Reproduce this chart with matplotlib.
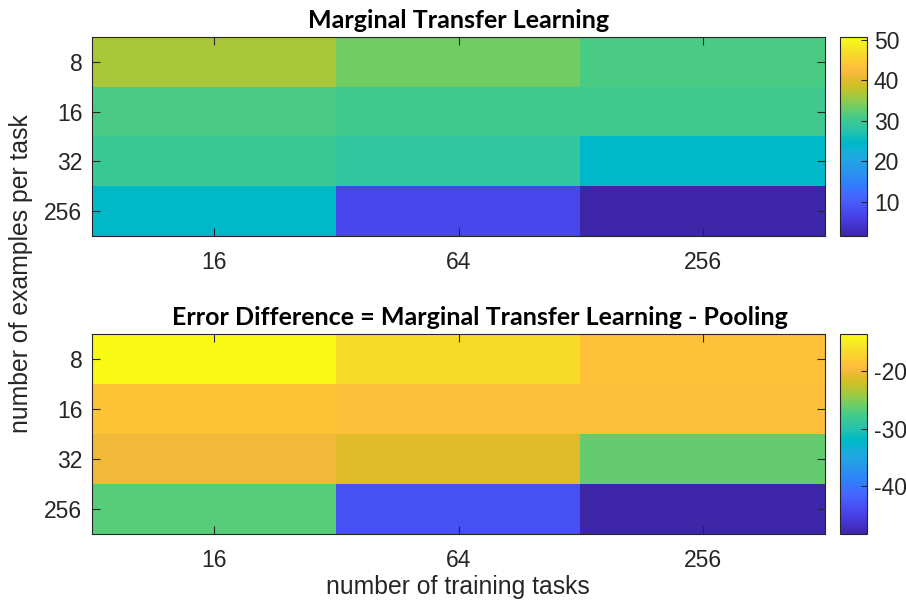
import numpy as np
import matplotlib
matplotlib.use("Agg")
import matplotlib.pyplot as plt
from matplotlib.colors import LinearSegmentedColormap

# --------------------------------
# DATA
# --------------------------------
tasks = ["16", "64", "256"]
examples = ["8", "16", "32", "256"]

# rows = examples per task, cols = training tasks
mtl_error = [
    [36.6, 33.5, 31.2],
    [31.2, 30.4, 30.4],
    [29.6, 28.8, 24.1],
    [24.3, 7.0, 1.6],
]
mtl_clim = [1.5, 50.7]
mtl_ticks = [10, 20, 30, 40, 50]

diff_error = [
    [-13.5, -16.3, -18.7],
    [-18.5, -19.0, -19.0],
    [-19.9, -21.0, -26.2],
    [-26.8, -43.3, -48.3],
]
diff_clim = [-48.3, -13.5]
diff_ticks = [-40, -30, -20]

# parula (64 steps)
parula_rgb = [
    [0.2422, 0.1504, 0.6603], [0.2504, 0.1650, 0.7076], [0.2578, 0.1818, 0.7511],
    [0.2647, 0.1978, 0.7952], [0.2706, 0.2147, 0.8364], [0.2751, 0.2342, 0.8710],
    [0.2783, 0.2559, 0.8991], [0.2803, 0.2782, 0.9221], [0.2813, 0.3006, 0.9414],
    [0.2810, 0.3228, 0.9579], [0.2795, 0.3447, 0.9717], [0.2760, 0.3667, 0.9829],
    [0.2699, 0.3892, 0.9906], [0.2602, 0.4123, 0.9952], [0.2440, 0.4358, 0.9988],
    [0.2206, 0.4603, 0.9973], [0.1963, 0.4847, 0.9892], [0.1834, 0.5074, 0.9798],
    [0.1786, 0.5289, 0.9682], [0.1764, 0.5499, 0.9520], [0.1687, 0.5703, 0.9359],
    [0.1540, 0.5902, 0.9218], [0.1460, 0.6091, 0.9079], [0.1380, 0.6276, 0.8973],
    [0.1248, 0.6459, 0.8883], [0.1113, 0.6635, 0.8763], [0.0952, 0.6798, 0.8598],
    [0.0689, 0.6948, 0.8394], [0.0297, 0.7082, 0.8163], [0.0036, 0.7203, 0.7917],
    [0.0067, 0.7312, 0.7660], [0.0433, 0.7411, 0.7394], [0.0964, 0.7500, 0.7120],
    [0.1408, 0.7584, 0.6842], [0.1717, 0.7670, 0.6554], [0.1938, 0.7758, 0.6251],
    [0.2161, 0.7843, 0.5923], [0.2470, 0.7918, 0.5567], [0.2906, 0.7973, 0.5188],
    [0.3406, 0.8008, 0.4789], [0.3909, 0.8029, 0.4354], [0.4456, 0.8024, 0.3909],
    [0.5044, 0.7993, 0.3480], [0.5616, 0.7942, 0.3045], [0.6174, 0.7876, 0.2612],
    [0.6720, 0.7793, 0.2227], [0.7242, 0.7698, 0.1910], [0.7738, 0.7598, 0.1646],
    [0.8203, 0.7498, 0.1535], [0.8634, 0.7406, 0.1596], [0.9035, 0.7330, 0.1774],
    [0.9393, 0.7288, 0.2100], [0.9728, 0.7298, 0.2394], [0.9956, 0.7434, 0.2371],
    [0.9970, 0.7659, 0.2199], [0.9952, 0.7893, 0.2028], [0.9892, 0.8136, 0.1885],
    [0.9786, 0.8386, 0.1766], [0.9676, 0.8639, 0.1643], [0.9610, 0.8890, 0.1537],
    [0.9597, 0.9135, 0.1423], [0.9628, 0.9373, 0.1265], [0.9691, 0.9606, 0.1064],
    [0.9769, 0.9839, 0.0805],
]
parula = LinearSegmentedColormap.from_list("parula", parula_rgb, N=256)

# --------------------------------
# FIGURE
# --------------------------------
W, H = 906, 600
plt.rcParams['font.family'] = ['Liberation Sans', 'DejaVu Sans']
plt.rcParams['axes.unicode_minus'] = False
fig = plt.figure(figsize=(W / 100, H / 100), dpi=100)

axcol = (0.15, 0.15, 0.15)


def px_rect(x0, y0, x1, y1):
    return [x0 / W, 1 - y1 / H, (x1 - x0) / W, (y1 - y0) / H]


def heat(rect, cbrect, data, clim, cticks, title, title_x):
    ax = fig.add_axes(px_rect(*rect))
    im = ax.imshow(np.array(data), cmap=parula, vmin=clim[0], vmax=clim[1],
                   aspect="auto", interpolation="nearest")
    ax.set_xticks(range(len(tasks)))
    ax.set_xticklabels(tasks)
    ax.set_yticks(range(len(examples)))
    ax.set_yticklabels(examples)
    ax.tick_params(direction="in", top=True, right=True, length=6, width=0.8,
                   colors=axcol, labelsize=16.5)
    ax.tick_params(axis="x", pad=11)
    ax.tick_params(axis="y", pad=7)
    for s in ax.spines.values():
        s.set_color(axcol)
        s.set_linewidth(0.8)
    fig.text(title_x / W, 1 - (rect[1] - 9) / H, title, ha="center", va="baseline",
             fontsize=18, fontweight="bold", family="Lato", color="black")

    cax = fig.add_axes(px_rect(*cbrect))
    cb = fig.colorbar(im, cax=cax, ticks=cticks)
    cb.outline.set_edgecolor(axcol)
    cb.outline.set_linewidth(0.8)
    cax.tick_params(direction="in", length=4, width=0.8, colors=axcol,
                    labelsize=16.5, pad=5)
    return ax


heat((92, 37, 825, 236), (840, 37, 867, 236), mtl_error, mtl_clim, mtl_ticks,
     "Marginal Transfer Learning", 459)
heat((92, 334, 825, 534), (840, 334, 867, 534), diff_error, diff_clim, diff_ticks,
     "Error Difference = Marginal Transfer Learning - Pooling", 480)

fig.text(21 / W, 1 - 274 / H, "number of examples per task", rotation=90,
         ha="center", va="center", fontsize=17.8, color=axcol)
fig.text(458 / W, 1 - 594 / H, "number of training tasks",
         ha="center", va="baseline", fontsize=17.8, color=axcol)

fig.savefig("out.png", dpi=100)
